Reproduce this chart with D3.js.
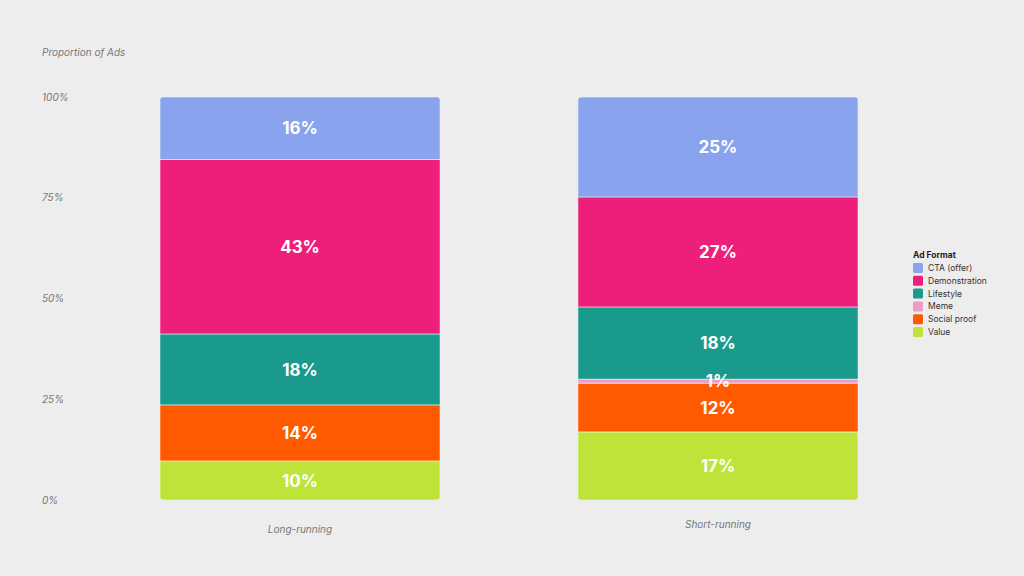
<!DOCTYPE html>
<html><head><meta charset="utf-8">
<script src="https://cdn.jsdelivr.net/npm/d3@7"></script>
<style>
body{margin:0;background:#ededed;}
svg{display:block;font-family:Inter,"Noto Sans",sans-serif;}
</style></head>
<body><svg id="c" width="1024" height="576"></svg>
<script>
const categories = ["Long-running", "Short-running"];
const formats = ["CTA (offer)", "Demonstration", "Lifestyle", "Meme", "Social proof", "Value"];
const colors = ["#8aa3ee", "#ee1f7a", "#1a9a8c", "#ee9bc8", "#ff5a00", "#bee43a"];
// stacking order from bottom
const stackOrder = ["Value", "Social proof", "Meme", "Lifestyle", "Demonstration", "CTA (offer)"];
const longRunning = {"Value": 9.7, "Social proof": 13.9, "Meme": 0, "Lifestyle": 17.6, "Demonstration": 43.3, "CTA (offer)": 15.5};
const shortRunning = {"Value": 16.9, "Social proof": 12.1, "Meme": 1.0, "Lifestyle": 17.9, "Demonstration": 27.3, "CTA (offer)": 24.8};
const yTicks = [0, 25, 50, 75, 100];

const seriesData = [longRunning, shortRunning];
const svg = d3.select("#c");
const x = d3.scaleBand().domain(categories).range([160, 858]).paddingInner(0.33).paddingOuter(0);
const y = d3.scaleLinear().domain([0, 100]).range([500, 97]);
const color = d3.scaleOrdinal().domain(formats).range(colors);

svg.append("text").attr("x", 42).attr("y", 56).attr("font-size", 10).attr("font-style", "italic")
  .attr("fill", "#777").text("Proportion of Ads");

const yAxis = svg.append("g").attr("transform", "translate(42,0)")
  .call(d3.axisLeft(y).tickValues(yTicks).tickFormat(d => d + "%").tickSize(0));
yAxis.select(".domain").remove();
yAxis.selectAll("text").attr("text-anchor", "start").attr("x", 0).attr("dy", "0.32em")
  .attr("font-size", 10).attr("font-style", "italic").attr("fill", "#777").attr("font-family", "Inter,'Noto Sans',sans-serif");

const defs = svg.append("defs");
categories.forEach((cat, i) => {
  const d = seriesData[i];
  const stacked = [];
  let acc = 0;
  stackOrder.forEach(k => { stacked.push({key: k, v: d[k], y0: acc, y1: acc + d[k]}); acc += d[k]; });
  const cid = "clip" + i;
  defs.append("clipPath").attr("id", cid).append("rect")
    .attr("x", x(cat)).attr("y", y(acc)).attr("width", x.bandwidth()).attr("height", y(0) - y(acc)).attr("rx", 4);
  const g = svg.append("g").attr("clip-path", `url(#${cid})`);
  g.selectAll("rect").data(stacked.filter(s => s.v > 0)).join("rect")
    .attr("x", x(cat)).attr("width", x.bandwidth())
    .attr("y", s => y(s.y1)).attr("height", s => y(s.y0) - y(s.y1))
    .attr("fill", s => color(s.key)).attr("stroke", "rgba(255,255,255,0.6)").attr("stroke-width", 0.8);
  svg.append("g").selectAll("text").data(stacked.filter(s => s.v > 0)).join("text")
    .attr("x", x(cat) + x.bandwidth() / 2).attr("y", s => y((s.y0 + s.y1) / 2)).attr("dy", "0.36em")
    .attr("text-anchor", "middle").attr("fill", "#fff").attr("font-size", 17).attr("font-weight", 700)
    .text(s => Math.round(s.v) + "%");
  svg.append("text").attr("x", x(cat) + x.bandwidth() / 2).attr("y", 533 - i * 5)
    .attr("text-anchor", "middle").attr("font-size", 10).attr("font-style", "italic").attr("fill", "#777").text(cat);
});

const leg = svg.append("g").attr("transform", "translate(913,258)");
leg.append("text").attr("x", 0).attr("y", 0).attr("font-size", 8.5).attr("font-weight", 700).attr("fill", "#222").text("Ad Format");
formats.forEach((f, i) => {
  const row = leg.append("g").attr("transform", `translate(0,${5 + i * 12.8})`);
  row.append("rect").attr("width", 10).attr("height", 10).attr("rx", 1.5).attr("fill", color(f));
  row.append("text").attr("x", 15).attr("y", 8).attr("font-size", 8.5).attr("fill", "#333").text(f);
});
</script></body></html>
